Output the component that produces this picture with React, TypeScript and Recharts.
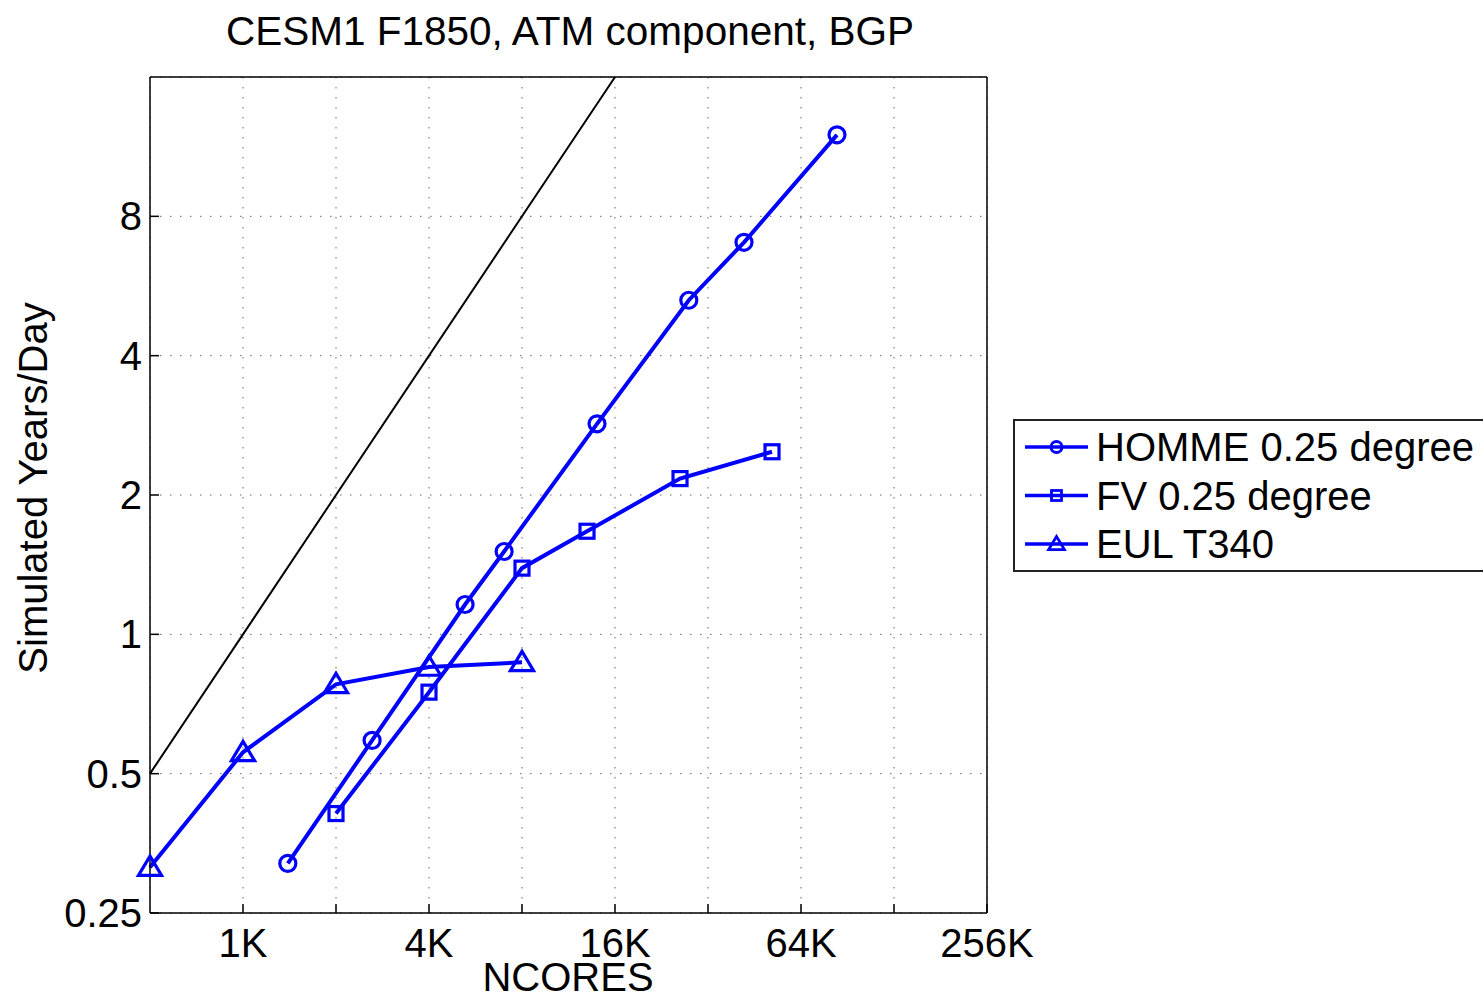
import React from 'react';
import { LineChart, Line, XAxis, YAxis, CartesianGrid, Legend } from 'recharts';

// ---------- data ----------
const X_MAJOR_TICKS = [1024, 2048, 4096, 8192, 16384, 32768, 65536, 131072, 262144];
const X_MINOR_TICKS = [600, 700, 800, 900];
const X_TICK_LABELS: Record<number, string> = { 1024: '1K', 4096: '4K', 16384: '16K', 65536: '64K', 262144: '256K' };
const Y_TICKS = [0.25, 0.5, 1, 2, 4, 8];
const Y_TICK_LABELS: Record<number, string> = { 0.25: '0.25', 0.5: '0.5', 1: '1', 2: '2', 4: '4', 8: '8' };

const HOMME_CORES = [1430, 2680, 5360, 7170, 14330, 28400, 42850, 85700];
const HOMME_YPD = [0.32, 0.59, 1.16, 1.51, 2.85, 5.27, 7.03, 12.0];

const FV_CORES = [2048, 4096, 8192, 13300, 26600, 52800];
const FV_YPD = [0.41, 0.75, 1.39, 1.67, 2.17, 2.48];

const EUL_CORES = [512, 1024, 2048, 4096, 8192];
const EUL_YPD = [0.314, 0.556, 0.78, 0.85, 0.87];

const IDEAL_CORES = [512, 16384];
const IDEAL_YPD = [0.5, 16];

const SERIES_NAMES = ['HOMME 0.25 degree', 'FV 0.25 degree', 'EUL T340'];
const TITLE = 'CESM1 F1850, ATM component, BGP';
const X_LABEL = 'NCORES';
const Y_LABEL = 'Simulated Years/Day';

const zip = (xs: number[], ys: number[]) => xs.map((x, i) => ({ x, y: ys[i] }));
const hommeData = zip(HOMME_CORES, HOMME_YPD);
const fvData = zip(FV_CORES, FV_YPD);
const eulData = zip(EUL_CORES, EUL_YPD);
const idealData = zip(IDEAL_CORES, IDEAL_YPD);

// ---------- style ----------
const BLUE = '#0000ff';
const FONT = '"Liberation Sans", Arial, Helvetica, sans-serif';
const FS = 40;
const X_DOMAIN = [512, 262144];
const Y_DOMAIN = [0.25, 16];

// ---------- markers ----------
const circleDot = (p: any) => (
  <circle key={`c${p.index}`} cx={p.cx} cy={p.cy} r={8} fill="none" stroke={BLUE} strokeWidth={3.2} />
);
const squareDot = (p: any) => (
  <rect key={`s${p.index}`} x={p.cx - 7} y={p.cy - 7} width={14} height={14} fill="none" stroke={BLUE} strokeWidth={3.2} />
);
const triPoints = (cx: number, cy: number, s: number) =>
  `${cx},${cy - s} ${cx + s * 1.05},${cy + s * 0.75} ${cx - s * 1.05},${cy + s * 0.75}`;
const triDot = (p: any) => (
  <polygon key={`t${p.index}`} points={triPoints(p.cx, p.cy, 11)} fill="none" stroke={BLUE} strokeWidth={3.2} />
);

// ---------- ticks ----------
const BottomTick = (props: any) => {
  const { x, y, payload } = props;
  const label = X_TICK_LABELS[payload.value];
  return (
    <g>
      <line x1={x} x2={x} y1={y} y2={y - 9} stroke="#000" strokeWidth={1.5} />
      {label ? (
        <text x={x} y={y + 44} textAnchor="middle" fontSize={FS} fontFamily={FONT} fill="#000">
          {label}
        </text>
      ) : null}
    </g>
  );
};
const BottomMinorTick = (props: any) => {
  const { x, y } = props;
  return <line x1={x} x2={x} y1={y - 1} y2={y - 6} stroke="#000" strokeWidth={1.2} />;
};
const TopTick = (props: any) => {
  const { x, y } = props;
  return <line x1={x} x2={x} y1={y} y2={y + 9} stroke="#000" strokeWidth={1.5} />;
};
const TopMinorTick = (props: any) => {
  const { x, y } = props;
  return <line x1={x} x2={x} y1={y + 1} y2={y + 6} stroke="#000" strokeWidth={1.2} />;
};
const LeftTick = (props: any) => {
  const { x, y, payload } = props;
  const label = Y_TICK_LABELS[payload.value];
  return (
    <g>
      <line x1={x} x2={x + 9} y1={y} y2={y} stroke="#000" strokeWidth={1.5} />
      <text x={x - 8} y={y + 14} textAnchor="end" fontSize={FS} fontFamily={FONT} fill="#000">
        {label}
      </text>
    </g>
  );
};
const RightTick = (props: any) => {
  const { x, y } = props;
  return <line x1={x} x2={x - 9} y1={y} y2={y} stroke="#000" strokeWidth={1.5} />;
};

// ---------- legend ----------
const legendMarker = (i: number, cx: number, cy: number) => {
  if (i === 0) return <circle cx={cx} cy={cy} r={5.5} fill="none" stroke={BLUE} strokeWidth={2.8} />;
  if (i === 1) return <rect x={cx - 5} y={cy - 5} width={10} height={10} fill="none" stroke={BLUE} strokeWidth={2.8} />;
  return <polygon points={triPoints(cx, cy, 7.5)} fill="none" stroke={BLUE} strokeWidth={2.8} />;
};
const renderLegend = () => (
  <div style={{ width: 480, height: 153, border: '2px solid #222', background: '#fff', boxSizing: 'border-box' }}>
    <svg width={476} height={149} style={{ display: 'block' }}>
      {SERIES_NAMES.map((name, i) => {
        const cy = 26 + i * 48.5;
        return (
          <g key={name}>
            <line x1={10} x2={73} y1={cy} y2={cy} stroke={BLUE} strokeWidth={3.5} />
            {legendMarker(i, 41.5, cy)}
            <text x={81} y={cy + 14} fontSize={FS} fontFamily={FONT} fill="#000">
              {name}
            </text>
          </g>
        );
      })}
    </svg>
  </div>
);

const axisLineStyle = { stroke: '#000', strokeWidth: 1.5 };

export default function App() {
  return (
    <div style={{ position: 'absolute', left: 0, top: 0, width: 1483, height: 1000, overflow: 'hidden', background: '#fff' }}>
      <LineChart width={1483} height={1000} margin={{ top: 75, right: 495, bottom: 85, left: 149 }}>
        <CartesianGrid
          xAxisId="bottom"
          yAxisId="left"
          stroke="#666"
          strokeWidth={1}
          strokeDasharray="1.5 8.5"
        />
        <XAxis
          xAxisId="bottom"
          orientation="bottom"
          dataKey="x"
          type="number"
          scale="log"
          domain={X_DOMAIN}
          ticks={X_MAJOR_TICKS}
          interval={0}
          height={1}
          tickSize={0}
          tickMargin={0}
          tickLine={false}
          tick={<BottomTick />}
          axisLine={axisLineStyle}
        />
        <XAxis
          xAxisId="bottomMinor"
          orientation="bottom"
          dataKey="x"
          type="number"
          scale="log"
          domain={X_DOMAIN}
          ticks={X_MINOR_TICKS}
          interval={0}
          height={1}
          tickSize={0}
          tickMargin={0}
          tickLine={false}
          tick={<BottomMinorTick />}
          axisLine={false}
        />
        <XAxis
          xAxisId="top"
          orientation="top"
          dataKey="x"
          type="number"
          scale="log"
          domain={X_DOMAIN}
          ticks={X_MAJOR_TICKS}
          interval={0}
          height={1}
          tickSize={0}
          tickMargin={0}
          tickLine={false}
          tick={<TopTick />}
          axisLine={axisLineStyle}
        />
        <XAxis
          xAxisId="topMinor"
          orientation="top"
          dataKey="x"
          type="number"
          scale="log"
          domain={X_DOMAIN}
          ticks={X_MINOR_TICKS}
          interval={0}
          height={1}
          tickSize={0}
          tickMargin={0}
          tickLine={false}
          tick={<TopMinorTick />}
          axisLine={false}
        />
        <YAxis
          yAxisId="left"
          orientation="left"
          type="number"
          scale="log"
          domain={Y_DOMAIN}
          ticks={Y_TICKS}
          interval={0}
          width={1}
          tickSize={0}
          tickMargin={0}
          tickLine={false}
          tick={<LeftTick />}
          axisLine={axisLineStyle}
        />
        <YAxis
          yAxisId="right"
          orientation="right"
          type="number"
          scale="log"
          domain={Y_DOMAIN}
          ticks={Y_TICKS}
          interval={0}
          width={1}
          tickSize={0}
          tickMargin={0}
          tickLine={false}
          tick={<RightTick />}
          axisLine={axisLineStyle}
        />
        <Line
          xAxisId="bottom"
          yAxisId="left"
          data={idealData}
          dataKey="y"
          name="ideal"
          stroke="#000"
          strokeWidth={2}
          dot={false}
          activeDot={false}
          legendType="none"
          isAnimationActive={false}
        />
        <Line
          xAxisId="bottom"
          yAxisId="left"
          data={hommeData}
          dataKey="y"
          name={SERIES_NAMES[0]}
          stroke={BLUE}
          strokeWidth={4}
          dot={circleDot}
          activeDot={false}
          isAnimationActive={false}
        />
        <Line
          xAxisId="bottom"
          yAxisId="left"
          data={fvData}
          dataKey="y"
          name={SERIES_NAMES[1]}
          stroke={BLUE}
          strokeWidth={4}
          dot={squareDot}
          activeDot={false}
          isAnimationActive={false}
        />
        <Line
          xAxisId="bottom"
          yAxisId="left"
          data={eulData}
          dataKey="y"
          name={SERIES_NAMES[2]}
          stroke={BLUE}
          strokeWidth={4}
          dot={triDot}
          activeDot={false}
          isAnimationActive={false}
        />
        <Legend
          layout="vertical"
          align="center"
          verticalAlign="middle"
          content={renderLegend}
          wrapperStyle={{ position: 'absolute', left: 1013, top: 419, width: 480, height: 153 }}
        />
      </LineChart>
      <svg
        width={1483}
        height={1000}
        style={{ position: 'absolute', left: 0, top: 0, pointerEvents: 'none' }}
      >
        <text x={570} y={45} textAnchor="middle" fontSize={40.5} fontFamily={FONT} fill="#000">
          {TITLE}
        </text>
        <text x={568} y={991} textAnchor="middle" fontSize={FS} fontFamily={FONT} fill="#000">
          {X_LABEL}
        </text>
        <text
          x={47}
          y={488}
          textAnchor="middle"
          fontSize={FS}
          fontFamily={FONT}
          fill="#000"
          transform="rotate(-90 47 488)"
        >
          {Y_LABEL}
        </text>
      </svg>
    </div>
  );
}
